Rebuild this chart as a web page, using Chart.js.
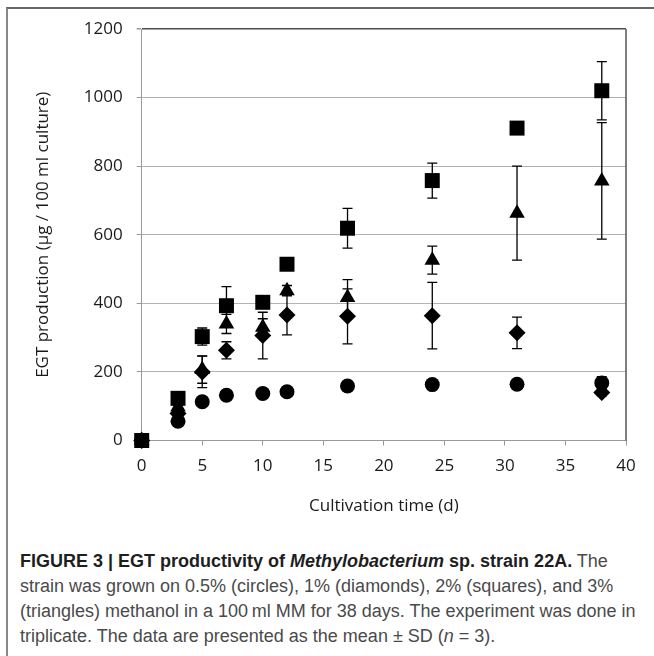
<!DOCTYPE html>
<html>
<head>
<meta charset="utf-8">
<script src="https://cdn.jsdelivr.net/npm/chart.js@4"></script>
<style>
    body { margin: 0; background: #fff; }
    #pagina { position: relative; width: 654px; height: 656px; overflow: hidden; }
    #cornice { position: absolute; left: 6px; top: 7px; width: 700px; height: 700px;
               border-top: 2px solid #666; border-left: 2px solid #888; }
    #grafico { position: absolute; left: 0; top: 0; }
    #didascalia { position: absolute; left: 20px; top: 549px; font-family: "Liberation Sans", Arial, sans-serif;
                  font-size: 18px; line-height: 25px; color: #4a4a4a; white-space: nowrap; }
    #didascalia b { color: #1e1e1e; }
</style>
</head>
<body>
<div id="pagina">
    <div id="cornice"></div>
    <canvas id="grafico" width="654" height="530"></canvas>
    <div id="didascalia">
        <div><b>FIGURE 3 | EGT productivity of <i>Methylobacterium</i> sp. strain 22A.</b> The</div>
        <div>strain was grown on 0.5% (circles), 1% (diamonds), 2% (squares), and 3%</div>
        <div>(triangles) methanol in a 100&#8201;ml MM for 38 days. The experiment was done in</div>
        <div>triplicate. The data are presented as the mean &#177; SD (<i>n</i> = 3).</div>
    </div>
</div>
<script>
// giorni di coltura
const giorni = [0, 3, 5, 7, 10, 12, 17, 24, 31, 38];

// medie per concentrazione di metanolo
const cerchi   = [0, 56, 113, 132, 137, 142, 159, 163, 164, 168];    // 0.5%
const rombi    = [0, 79, 200, 263, 306, 366, 362, 364, 314, 140];    // 1%
const quadrati = [0, 123, 303, 393, 403, 514, 619, 758, 911, 1020];  // 2%
const triangoli = [0, 98, 207, 340, 330, 437, 417, 526, 663, 757];   // 3%

// deviazioni standard
const sdCerchi   = [0, 4, 4, 4, 4, 4, 4, 4, 4, 18];
const sdRombi    = [0, 5, 46, 25, 68, 58, 80, 97, 46, 10];
const sdQuadrati = [0, 5, 25, 56, 15, 10, 58, 51, 10, 85];
const sdTriangoli = [0, 5, 40, 28, 25, 15, 52, 41, 137, 170];

const tickX = [0, 5, 10, 15, 20, 25, 30, 35, 40];
const tickY = [0, 200, 400, 600, 800, 1000, 1200];

function punti(valori) {
    return giorni.map((g, i) => ({ x: g, y: valori[i] }));
}

function serie(nome, valori, sd, stile, raggio) {
    return {
        label: nome,
        data: punti(valori),
        sd: sd,
        pointStyle: stile,
        pointRadius: raggio,
        backgroundColor: '#000',
        borderColor: '#000',
        pointBorderWidth: 0,
        showLine: false,
        clip: false
    };
}

// barre di errore disegnate sotto i marcatori
const pluginErrori = {
    id: 'barreErrore',
    beforeDatasetsDraw: (chart) => {
        const ctx = chart.ctx;
        const xAxis = chart.scales.x;
        const yAxis = chart.scales.y;
        ctx.save();
        ctx.strokeStyle = '#000';
        ctx.lineWidth = 1.3;
        chart.data.datasets.forEach(ds => {
            ds.data.forEach((p, i) => {
                const sd = ds.sd[i];
                if (!sd) return;
                const x = xAxis.getPixelForValue(p.x);
                const y1 = yAxis.getPixelForValue(p.y + sd);
                const y2 = yAxis.getPixelForValue(p.y - sd);
                ctx.beginPath();
                ctx.moveTo(x, y1); ctx.lineTo(x, y2);
                ctx.moveTo(x - 5, y1); ctx.lineTo(x + 5, y1);
                ctx.moveTo(x - 5, y2); ctx.lineTo(x + 5, y2);
                ctx.stroke();
            });
        });
        ctx.restore();
    }
};

// bordo destro dell'area del grafico
const pluginBordo = {
    id: 'bordoDestro',
    afterDraw: (chart) => {
        const ctx = chart.ctx;
        const a = chart.chartArea;
        ctx.save();
        ctx.strokeStyle = '#555';
        ctx.lineWidth = 1.5;
        ctx.beginPath();
        ctx.moveTo(a.right, a.top);
        ctx.lineTo(a.right, a.bottom);
        ctx.stroke();
        ctx.restore();
    }
};

const fontTick = { family: '"Open Sans", sans-serif', size: 17 };
const fontTitolo = { family: '"Open Sans", sans-serif', size: 17 };

new Chart(document.getElementById('grafico'), {
    type: 'scatter',
    data: {
        datasets: [
            serie('0.5%', cerchi, sdCerchi, 'circle', 7.5),
            serie('1%', rombi, sdRombi, 'rectRot', 8.5),
            serie('2%', quadrati, sdQuadrati, 'rect', 10.6),
            serie('3%', triangoli, sdTriangoli, 'triangle', 9)
        ]
    },
    options: {
        responsive: false,
        animation: false,
        events: [],
        layout: { padding: { top: 29, right: 28, left: 0, bottom: 0 } },
        plugins: { legend: { display: false }, tooltip: { enabled: false } },
        scales: {
            x: {
                type: 'linear',
                min: 0, max: 40,
                afterBuildTicks: s => { s.ticks = tickX.map(v => ({ value: v })); },
                afterFit: s => { s.height = 89.5; },
                grid: { drawOnChartArea: false, drawTicks: true, tickLength: 5, tickColor: '#999' },
                border: { color: '#999', width: 1 },
                ticks: { color: '#1a1a1a', font: fontTick, padding: 10, maxRotation: 0, callback: v => String(v) },
                title: { display: true, text: 'Cultivation time (d)', color: '#1a1a1a', font: fontTitolo,
                         padding: { top: 4, bottom: 14 } }
            },
            y: {
                type: 'linear',
                min: 0, max: 1200,
                afterBuildTicks: s => { s.ticks = tickY.map(v => ({ value: v })); },
                afterFit: s => { s.width = 141.7; },
                grid: {
                    color: c => (c.tick && c.tick.value === 1200) ? '#4d4d4d' : '#b3b3b3',
                    lineWidth: c => (c.tick && c.tick.value === 1200) ? 1.5 : 1,
                    drawTicks: true, tickLength: 5, tickColor: '#999'
                },
                border: { color: '#999', width: 1 },
                ticks: { color: '#1a1a1a', font: fontTick, padding: 14, callback: v => String(v) },
                title: { display: true, text: 'EGT production (µg / 100 ml culture)', color: '#1a1a1a', font: fontTitolo,
                         padding: { top: 33, bottom: 0 } }
            }
        }
    },
    plugins: [pluginErrori, pluginBordo]
});
</script>
</body>
</html>
